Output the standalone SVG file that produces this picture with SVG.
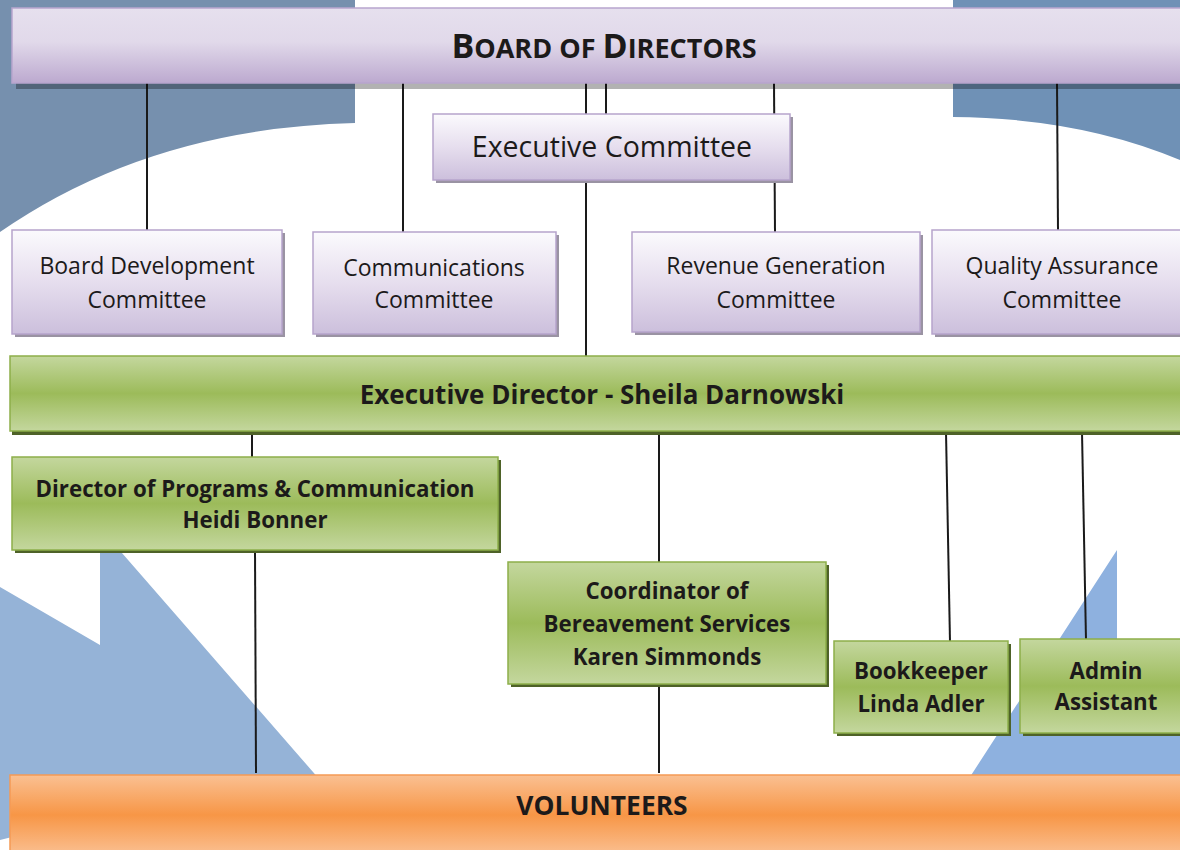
<svg xmlns="http://www.w3.org/2000/svg" width="1180" height="850" viewBox="0 0 1180 850">
<defs>
<linearGradient id="gBoard" x1="0" y1="0" x2="0" y2="1">
<stop offset="0" stop-color="#E6E0EE"/><stop offset="0.45" stop-color="#E1D9EA"/><stop offset="1" stop-color="#BCA9CF"/>
</linearGradient>
<linearGradient id="gPurple" x1="0" y1="0" x2="0" y2="1">
<stop offset="0" stop-color="#FBFAFD"/><stop offset="0.5" stop-color="#E6DEEE"/><stop offset="1" stop-color="#CCBFDC"/>
</linearGradient>
<linearGradient id="gGreen" x1="0" y1="0" x2="0" y2="1">
<stop offset="0" stop-color="#C4D79E"/><stop offset="0.5" stop-color="#9CBB5A"/><stop offset="1" stop-color="#C4D79E"/>
</linearGradient>
<linearGradient id="gOrange" x1="0" y1="0" x2="0" y2="1">
<stop offset="0" stop-color="#FAC092"/><stop offset="0.5" stop-color="#F79646"/><stop offset="1" stop-color="#FAC092"/>
</linearGradient>
</defs>
<style>
text{font-family:"Open Sans",Lato,sans-serif;fill:#1c1a1a;text-anchor:middle}
.b{font-weight:bold}
.p{fill:url(#gPurple);stroke:#B6A4CC;stroke-width:1.5}
.g{fill:url(#gGreen);stroke:#8DAF4A;stroke-width:1.5}
.sp{fill:#9A93A3}
.sg{fill:#4E6228}
.c{stroke:#1a1a1a;stroke-width:2;fill:none}
.t22{font-size:23px}
.tb22{font-size:22.3px;font-weight:bold}
</style>
<rect width="1180" height="850" fill="#FFFFFF"/>
<g id="background">
<path d="M0,0 H355 V123 Q150,128 0,232 Z" fill="#7690AE"/>
<path d="M953,0 H1180 V160 Q1080,118 953,117 Z" fill="#6F91B6"/>
<path d="M0,587 L100,645 L100,545 L115,545 L320,780 L20,780 L20,835 L0,840 Z" fill="#95B3D7"/>
<path d="M1117,550 L1117,700 L1180,700 L1180,780 L968,780 Z" fill="#8EB1DF"/>
</g>
<g id="connectors">
<line class="c" x1="147" y1="83" x2="147" y2="232"/>
<line class="c" x1="403" y1="83" x2="403" y2="233"/>
<line class="c" x1="586" y1="83" x2="586" y2="114"/>
<line class="c" x1="606" y1="83" x2="606" y2="114"/>
<line class="c" x1="774" y1="83" x2="775" y2="233"/>
<line class="c" x1="1057" y1="83" x2="1058" y2="231"/>
<line class="c" x1="586" y1="180" x2="586" y2="357"/>
<line class="c" x1="252" y1="432" x2="252" y2="458"/>
<line class="c" x1="659" y1="432" x2="659" y2="563"/>
<line class="c" x1="946" y1="432" x2="950" y2="642"/>
<line class="c" x1="1082" y1="432" x2="1086" y2="640"/>
<line class="c" x1="255" y1="550" x2="256" y2="773"/>
<line class="c" x1="659" y1="684" x2="659" y2="773"/>
</g>
<g id="board">
<rect x="16" y="83" width="1170" height="6" fill="#000" opacity="0.3"/>
<rect x="12" y="8" width="1175" height="75" fill="url(#gBoard)" stroke="#B8A5CE" stroke-width="1.5"/>
<text x="604" y="58" class="b" font-size="34">B<tspan font-size="27">OARD OF </tspan>D<tspan font-size="27">IRECTORS</tspan></text>
</g>
<g id="exec-committee">
<rect x="436" y="117" width="357" height="66" class="sp"/>
<rect x="433" y="114" width="357" height="66" class="p"/>
<text x="612" y="157" font-size="28.5">Executive Committee</text>
</g>
<g id="board-development">
<rect x="15" y="233" width="270" height="104" class="sp"/>
<rect x="12" y="230" width="270" height="104" class="p"/>
<text x="147" y="274" class="t22">Board Development</text>
<text x="147" y="308" class="t22">Committee</text>
</g>
<g id="communications">
<rect x="316" y="235" width="243" height="102" class="sp"/>
<rect x="313" y="232" width="243" height="102" class="p"/>
<text x="434" y="276" class="t22">Communications</text>
<text x="434" y="308" class="t22">Committee</text>
</g>
<g id="revenue-generation">
<rect x="635" y="235" width="288" height="100" class="sp"/>
<rect x="632" y="232" width="288" height="100" class="p"/>
<text x="776" y="274" class="t22">Revenue Generation</text>
<text x="776" y="308" class="t22">Committee</text>
</g>
<g id="quality-assurance">
<rect x="935" y="233" width="250" height="104" class="sp"/>
<rect x="932" y="230" width="255" height="104" class="p"/>
<text x="1062" y="274" class="t22">Quality Assurance</text>
<text x="1062" y="308" class="t22">Committee</text>
</g>
<g id="executive-director">
<rect x="12" y="429" width="1175" height="6" class="sg"/>
<rect x="10" y="356" width="1177" height="75" class="g"/>
<text x="602" y="404" font-size="26" class="b">Executive Director - Sheila Darnowski</text>
</g>
<g id="director-programs">
<rect x="15" y="460" width="486" height="93" class="sg"/>
<rect x="12" y="457" width="486" height="93" class="g"/>
<text x="255" y="497" class="tb22">Director of Programs &amp; Communication</text>
<text x="255" y="528" class="tb22">Heidi Bonner</text>
</g>
<g id="coordinator">
<rect x="511" y="565" width="318" height="122" class="sg"/>
<rect x="508" y="562" width="318" height="122" class="g"/>
<text x="667" y="599" class="tb22">Coordinator of</text>
<text x="667" y="632" class="tb22">Bereavement Services</text>
<text x="667" y="665" class="tb22">Karen Simmonds</text>
</g>
<g id="bookkeeper">
<rect x="837" y="644" width="174" height="92" class="sg"/>
<rect x="834" y="641" width="174" height="92" class="g"/>
<text x="921" y="679" class="tb22">Bookkeeper</text>
<text x="921" y="712" class="tb22">Linda Adler</text>
</g>
<g id="admin-assistant">
<rect x="1023" y="642" width="160" height="94" class="sg"/>
<rect x="1020" y="639" width="165" height="94" class="g"/>
<text x="1106" y="679" class="tb22">Admin</text>
<text x="1106" y="710" class="tb22">Assistant</text>
</g>
<g id="volunteers">
<rect x="10" y="775" width="1177" height="80" fill="url(#gOrange)" stroke="#F59A55" stroke-width="1.5"/>
<text x="602" y="815" font-size="26.4" class="b">VOLUNTEERS</text>
</g>
</svg>
